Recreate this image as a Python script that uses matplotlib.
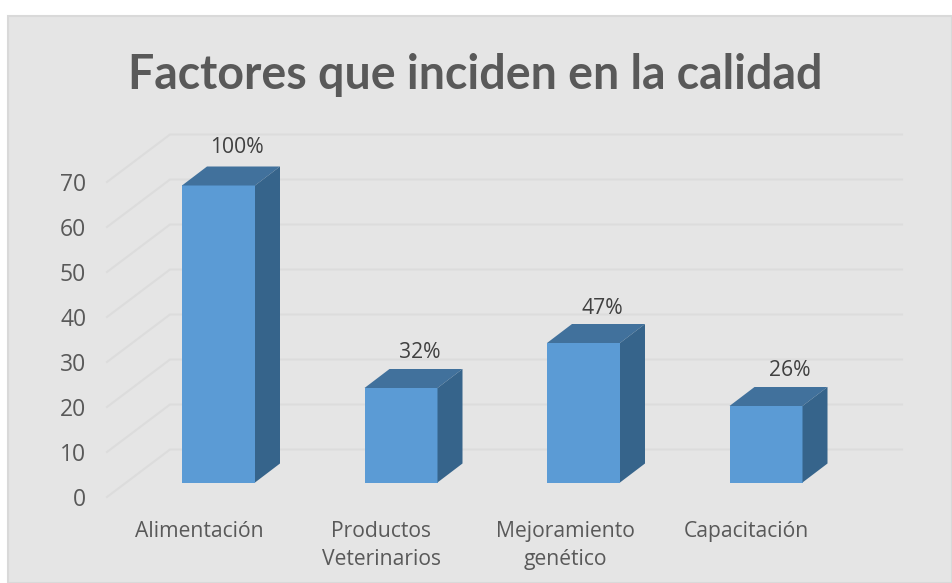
import numpy as np
import matplotlib
matplotlib.use('Agg')
import matplotlib.pyplot as plt
from matplotlib.patches import Polygon, Rectangle

# datos del grafico
categorias = ['Alimentación', 'Productos\nVeterinarios', 'Mejoramiento\ngenético', 'Capacitación']
valores = [66, 21, 31, 17]
porcentajes = ['100%', '32%', '47%', '26%']
niveles = [0, 10, 20, 30, 40, 50, 60, 70]

W, H = 952, 583
plt.rcParams['font.family'] = ['Open Sans', 'DejaVu Sans']

fig = plt.figure(figsize=(W / 100, H / 100), dpi=100, facecolor='white')

# fondo gris del area del grafico
fig.patches.append(Rectangle((8 / W, 0), (W - 8) / W, (H - 16) / H, transform=fig.transFigure,
                             facecolor='#e5e5e5', edgecolor='#d9d9d9', linewidth=1.5, zorder=-1))

# ejes: x en categorias (paso de 182.5 px), y en valores (4.5 px por unidad)
ax = fig.add_axes([107 / W, (H - 497) / H, 795 / W, 362.3 / H])
ax.patch.set_alpha(0)
ax.set_xlim((107 - 218.5) / 182.5, (902 - 218.5) / 182.5)
ax.set_ylim(0, 362.3 / 4.5)
for s in ax.spines.values():
    s.set_visible(False)

# profundidad de la pared y de las barras
pared_dx, pared_dy = 63 / 182.5, 47.5 / 4.5
barra_dx, barra_dy = 25 / 182.5, 19 / 4.5
piso = 14.5 / 4.5
ancho = 73 / 182.5

x0, x1 = ax.get_xlim()
for n in niveles:
    ax.plot([x0, x0 + pared_dx, x1], [n, n + pared_dy, n + pared_dy], color='#dcdcdc', lw=1.5,
            clip_on=False, zorder=1, solid_joinstyle='miter')

x = np.arange(len(valores))
ax.bar(x, valores, width=ancho, bottom=piso, color='#5b9bd5', zorder=3, clip_on=False)

# ajuste fino de las etiquetas de porcentaje (en px)
ajuste_x = [6, 6.5, 6, 11.5]
ajuste_y = [19, 16, 16, 16]

for xi, v, txt, ax_px, ay_px in zip(x, valores, porcentajes, ajuste_x, ajuste_y):
    izq, der = xi - ancho / 2, xi + ancho / 2
    alto = piso + v
    # tapa y lateral de la barra
    ax.add_patch(Polygon([(izq, alto), (der, alto), (der + barra_dx, alto + barra_dy), (izq + barra_dx, alto + barra_dy)],
                         facecolor='#41719c', edgecolor='none', zorder=3, clip_on=False))
    ax.add_patch(Polygon([(der, piso), (der + barra_dx, piso + barra_dy), (der + barra_dx, alto + barra_dy), (der, alto)],
                         facecolor='#36648b', edgecolor='none', zorder=3, clip_on=False))
    ax.text(xi + barra_dx / 2 + ax_px / 182.5, alto + barra_dy + ay_px / 4.5, txt, ha='center', va='center',
            fontsize=15.2, color='#404040', zorder=4, clip_on=False)

# etiquetas de los ejes
ax.set_yticks(niveles)
ax.tick_params(axis='y', length=0, pad=15, labelsize=16.5, labelcolor='#595959')
desplazamiento = [-19.5, -20, -18, -20]
ax.set_xticks([xi + d / 182.5 for xi, d in zip(x, desplazamiento)], categorias)
ax.tick_params(axis='x', length=0, pad=17, labelsize=15.2, labelcolor='#595959')
for t in ax.get_xticklabels():
    t.set_linespacing(1.48)

fig.text(475 / W, 1 - 75 / H, 'Factores que inciden en la calidad', ha='center', va='center',
         fontsize=33.5, fontweight='bold', color='#595959', family=['Lato', 'DejaVu Sans'])

fig.savefig('out.png', dpi=100)
